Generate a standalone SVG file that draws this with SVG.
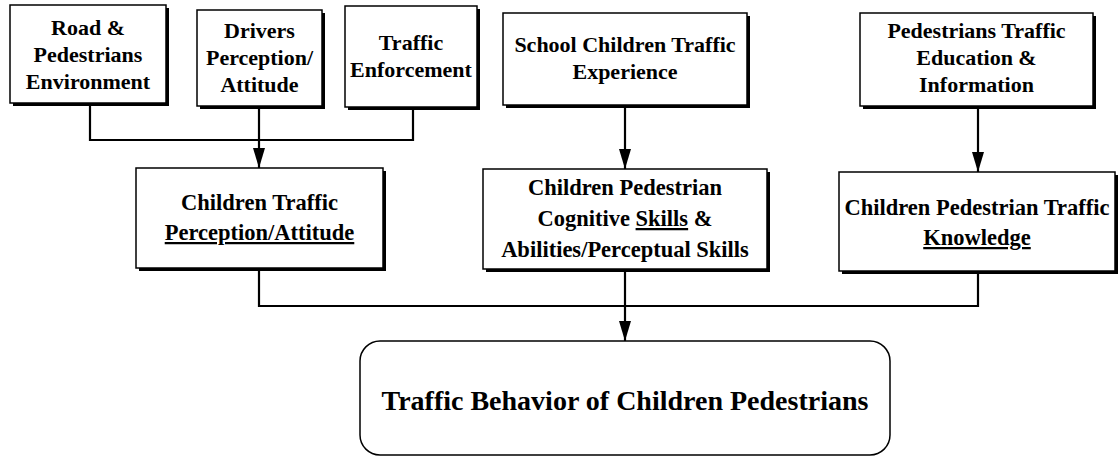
<svg xmlns="http://www.w3.org/2000/svg" width="1119" height="458" viewBox="0 0 1119 458">
  <style>
    .box { fill: #ffffff; stroke: #000000; stroke-width: 1.5; }
    .shadow { fill: #000000; }
    .lbl { font-family: "Liberation Serif", "Times New Roman", serif; font-weight: bold; font-size: 22px; fill: #000000; text-anchor: middle; }
    .mid { font-size: 22.5px; }
    .big { font-size: 28px; }
    .u { text-decoration: underline; }
    .wire { fill: none; stroke: #000000; stroke-width: 2.2; }
  </style>
  <defs>
    <!-- long, narrow filled arrowhead -->
    <marker id="head" viewBox="0 0 20 12" refX="20" refY="6" markerWidth="20" markerHeight="12" markerUnits="userSpaceOnUse" orient="auto">
      <path d="M0,0 L20,6 L0,12 Z" fill="#000000"/>
    </marker>
  </defs>
  <rect width="1119" height="458" fill="#ffffff"/>

  <!-- connectors -->
  <g id="connectors">
    <path class="wire" d="M90,103 V140 H413 V107"/>
    <path class="wire" d="M259,106 V168" marker-end="url(#head)"/>
    <path class="wire" d="M625,105 V169" marker-end="url(#head)"/>
    <path class="wire" d="M978,106 V172" marker-end="url(#head)"/>
    <path class="wire" d="M259,268 V306 H978 V271"/>
    <path class="wire" d="M625,269 V341" marker-end="url(#head)"/>
  </g>

  <!-- top row -->
  <g id="road-env">
    <rect class="shadow" x="13" y="8" width="156" height="98"/>
    <rect class="box" x="10" y="5" width="156" height="98"/>
    <text class="lbl" x="88" y="35">Road &amp;</text>
    <text class="lbl" x="88" y="62">Pedestrians</text>
    <text class="lbl" x="88" y="89">Environment</text>
  </g>
  <g id="drivers">
    <rect class="shadow" x="200" y="13" width="125" height="96"/>
    <rect class="box" x="197" y="10" width="125" height="96"/>
    <text class="lbl" x="259.5" y="38">Drivers</text>
    <text class="lbl" x="259.5" y="65">Perception/</text>
    <text class="lbl" x="259.5" y="92">Attitude</text>
  </g>
  <g id="enforcement">
    <rect class="shadow" x="348" y="9" width="132" height="101"/>
    <rect class="box" x="345" y="6" width="132" height="101"/>
    <text class="lbl" x="411" y="50">Traffic</text>
    <text class="lbl" x="411" y="77">Enforcement</text>
  </g>
  <g id="school-experience">
    <rect class="shadow" x="506" y="16" width="244" height="92"/>
    <rect class="box" x="503" y="13" width="244" height="92"/>
    <text class="lbl" x="625" y="52">School Children Traffic</text>
    <text class="lbl" x="625" y="79">Experience</text>
  </g>
  <g id="education">
    <rect class="shadow" x="863" y="16" width="233" height="93"/>
    <rect class="box" x="860" y="13" width="233" height="93"/>
    <text class="lbl" x="976.5" y="38">Pedestrians Traffic</text>
    <text class="lbl" x="976.5" y="65">Education &amp;</text>
    <text class="lbl" x="976.5" y="92">Information</text>
  </g>

  <!-- middle row -->
  <g id="perception">
    <rect class="shadow" x="139" y="171" width="247" height="100"/>
    <rect class="box" x="136" y="168" width="247" height="100"/>
    <text class="lbl mid" x="259.5" y="210">Children Traffic</text>
    <text class="lbl mid" x="259.5" y="240"><tspan class="u">Perception/Attitude</tspan></text>
  </g>
  <g id="skills">
    <rect class="shadow" x="486" y="172" width="284" height="100"/>
    <rect class="box" x="483" y="169" width="284" height="100"/>
    <text class="lbl mid" x="625" y="195">Children Pedestrian</text>
    <text class="lbl mid" x="625" y="226">Cognitive <tspan class="u">Skills</tspan> &amp;</text>
    <text class="lbl mid" x="625" y="257">Abilities/Perceptual Skills</text>
  </g>
  <g id="knowledge">
    <rect class="shadow" x="842" y="175" width="276" height="99"/>
    <rect class="box" x="839" y="172" width="276" height="99"/>
    <text class="lbl mid" x="977" y="215">Children Pedestrian Traffic</text>
    <text class="lbl mid" x="977" y="245"><tspan class="u">Knowledge</tspan></text>
  </g>

  <!-- outcome -->
  <g id="behavior">
    <rect class="box" x="360" y="341" width="530" height="114" rx="20" ry="20" stroke-width="2.2"/>
    <text class="lbl big" x="625" y="410">Traffic Behavior of Children Pedestrians</text>
  </g>
</svg>
